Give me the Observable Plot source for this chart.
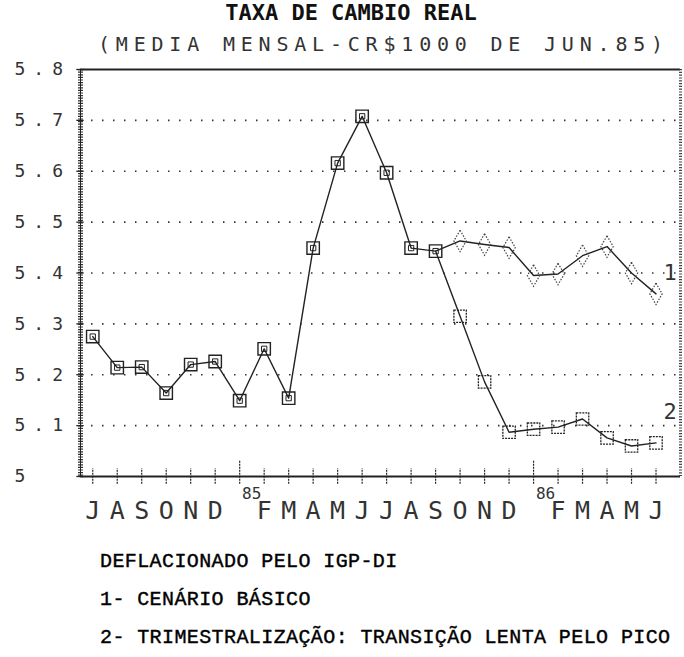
<!DOCTYPE html>
<html>
<head>
<meta charset="utf-8">
<script src="https://cdn.jsdelivr.net/npm/d3@7"></script>
<script src="https://cdn.jsdelivr.net/npm/@observablehq/plot@0.6"></script>
<style>
  html, body { margin: 0; padding: 0; background: #fff; width: 684px; height: 657px; overflow: hidden; }
  #title { height: 32px; line-height: 40px; text-align: center; padding-left: 18px;
           font: bold 22px "DejaVu Sans Mono", monospace; color: #111; letter-spacing: 0px; }
  #subtitle { height: 26px; line-height: 26px; padding-left: 98px; white-space: nowrap;
              font: 20px "DejaVu Sans Mono", monospace; color: #333; letter-spacing: 5.8px; }
  #chart svg { display: block; }
  #notes { padding-top: 3px; padding-left: 100px; font: 20px "Liberation Mono", monospace;
           color: #000; letter-spacing: 0.4px; white-space: nowrap; -webkit-text-stroke: 0.4px #000; }
  #notes div { height: 38px; line-height: 38px; }
</style>
</head>
<body>
<div id="title"></div>
<div id="subtitle"></div>
<div id="chart"></div>
<div id="notes"></div>
<script>
// ---- data ----
const titleText = "TAXA DE CAMBIO REAL";
const subtitleText = "(MEDIA MENSAL-CR$1000 DE JUN.85)";
const notes = [
  "DEFLACIONADO PELO IGP-DI",
  "1- CENÁRIO BÁSICO",
  "2- TRIMESTRALIZAÇÃO: TRANSIÇÃO LENTA PELO PICO"
];
// months Jul 1984 .. Jun 1986 ("85"/"86" mark January)
const months = ["J","A","S","O","N","D","85","F","M","A","M","J",
                "J","A","S","O","N","D","86","F","M","A","M","J"];
// shared history Jul 84 .. Sep 85
const historyValues = [5.275, 5.214, 5.215, 5.164, 5.220, 5.226, 5.149, 5.251,
                       5.154, 5.449, 5.616, 5.708, 5.597, 5.449, 5.443];
// Oct 85 .. Jun 86
const scenario1 = [5.463, 5.456, 5.450, 5.395, 5.398, 5.434, 5.452, 5.400, 5.359];
const scenario2 = [5.315, 5.186, 5.087, 5.093, 5.097, 5.113, 5.076, 5.060, 5.066];
const yTicks = [5, 5.1, 5.2, 5.3, 5.4, 5.5, 5.6, 5.7, 5.8];
const gridTicks = [5.1, 5.2, 5.3, 5.4, 5.5, 5.6, 5.7];
const seriesLabels = ["1", "2"];

// ---- derived tables ----
const hist = historyValues.map((v, i) => ({i, v}));
const n0 = historyValues.length;
const s1 = scenario1.map((v, k) => ({i: n0 + k, v}));
const s2 = scenario2.map((v, k) => ({i: n0 + k, v}));
const line1 = [...hist, ...s1];
const line2 = [hist[n0 - 1], ...s2];
const monthData = months.map((m, i) => ({i, m, year: /\d/.test(m)}));
const end1 = [{...s1[s1.length - 1], label: seriesLabels[0]}];
const end2 = [{...s2[s2.length - 1], label: seriesLabels[1]}];

document.getElementById("title").textContent = titleText;
document.getElementById("subtitle").textContent = subtitleText;
document.getElementById("notes").innerHTML = notes.map(t => `<div>${t}</div>`).join("");

const ink = "#222";
const chart = Plot.plot({
  width: 684,
  height: 482,
  marginLeft: 80,
  marginRight: 4,
  marginTop: 11,
  marginBottom: 64,
  style: {fontFamily: "DejaVu Sans Mono, monospace", background: "#fff", color: ink, overflow: "visible"},
  x: {domain: [-0.5, 24], axis: null},
  y: {domain: [5, 5.8], axis: null},
  marks: [
    // dotted grid
    Plot.ruleY(gridTicks, {stroke: "#333", strokeWidth: 1.6, strokeDasharray: "1.5,9.5"}),
    // frame: top and bottom solid, left and right hatched
    Plot.ruleY([5.8], {stroke: ink, strokeWidth: 2}),
    Plot.ruleY([5], {stroke: ink, strokeWidth: 1.8}),
    Plot.ruleX([-0.5], {stroke: "#333", strokeWidth: 5, strokeDasharray: "1.2,1.4"}),
    Plot.ruleX([-0.5], {stroke: ink, strokeWidth: 1}),
    Plot.ruleX([24], {stroke: "#444", strokeWidth: 3, strokeDasharray: "1.2,1.6"}),
    // y major ticks on the left axis
    Plot.ruleY(yTicks, {x1: -0.65, x2: -0.35, stroke: ink, strokeWidth: 1.3}),
    // month ticks on the x axis
    Plot.ruleX(monthData, {x: "i", y1: 4.985, y2: d => d.year ? 5.03 : 5.015,
                           stroke: ink, strokeWidth: 1.2, strokeDasharray: "2,1"}),
    // series lines
    Plot.line(line2, {x: "i", y: "v", stroke: ink, strokeWidth: 1.4}),
    Plot.line(line1, {x: "i", y: "v", stroke: ink, strokeWidth: 1.4}),
    // markers
    Plot.dot(hist, {x: "i", y: "v", symbol: "square", r: 7, stroke: ink, strokeWidth: 1.4, fill: "none"}),
    Plot.dot(hist, {x: "i", y: "v", symbol: "square", r: 3, stroke: ink, strokeWidth: 1, fill: "none"}),
    Plot.dot(s2, {x: "i", y: "v", symbol: "square", r: 7, stroke: ink, strokeWidth: 1.3, fill: "none", strokeDasharray: "2,1"}),
    Plot.dot(s1, {x: "i", y: "v", symbol: "diamond", r: 6.5, stroke: "#444", strokeWidth: 1.2, fill: "none", strokeDasharray: "1.5,1.5"}),
    // y labels
    Plot.text(yTicks, {y: d => d, text: d => d === 5 ? "5" : d.toFixed(1), frameAnchor: "left",
                       dx: -66, textAnchor: "start", fontSize: 18, fill: "#333"}),
    // x labels
    Plot.text(monthData.filter(d => !d.year), {x: "i", text: "m", frameAnchor: "bottom", dy: 42,
                       fontSize: 25, fill: "#333"}),
    Plot.text(monthData.filter(d => d.year), {x: "i", text: "m", frameAnchor: "bottom", dy: 22, dx: 12,
                       fontSize: 16, fill: "#333"}),
    // series labels
    Plot.text(end1, {x: "i", y: "v", text: "label", dx: 14, dy: -21, fontSize: 22, fill: "#333"}),
    Plot.text(end2, {x: "i", y: "v", text: "label", dx: 14, dy: -31, fontSize: 22, fill: "#333"})
  ]
});
// emulate the wide dot-matrix spacing of the y labels
chart.querySelectorAll("text").forEach(t => {
  if (/^5(\.\d)?$/.test(t.textContent)) t.setAttribute("letter-spacing", "8");
});
document.getElementById("chart").append(chart);
</script>
</body>
</html>
